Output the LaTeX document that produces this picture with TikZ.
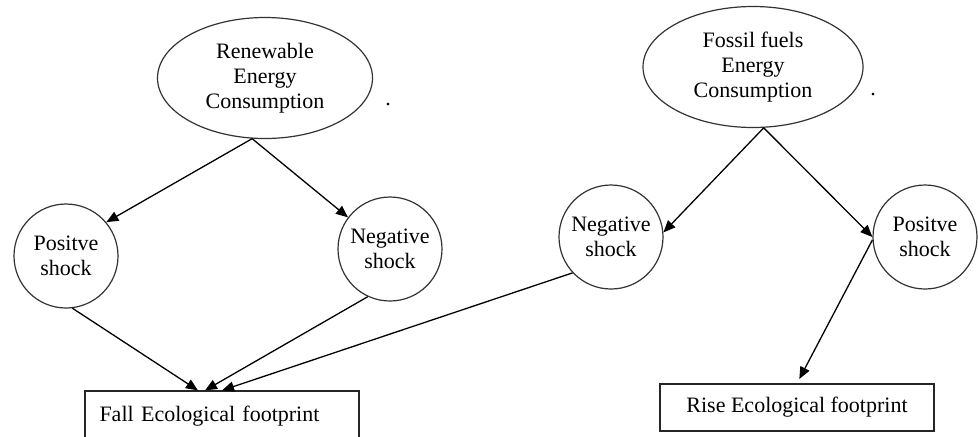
\documentclass[tikz,border=0pt]{standalone}
\usepackage{fontspec}
\setmainfont{Liberation Serif}
\usepackage{tikz}
\usetikzlibrary{shapes.geometric,arrows.meta}

\begin{document}
\begin{tikzpicture}[x=0.5pt,y=-0.5pt,
  font=\fontsize{11}{12.5}\selectfont,
  energy/.style={draw=black!80,line width=0.6pt,ellipse,align=center,inner sep=0pt,minimum height=60.5pt},
  shockc/.style={draw=black!80,line width=0.6pt,circle,align=center,inner sep=0pt,minimum size=52pt},
  footprint/.style={draw=black!85,line width=0.6pt,rectangle,minimum width=137pt},
  link/.style={-{Triangle[length=6pt,width=5pt]},line width=0.65pt}]
\useasboundingbox (0,0) rectangle (978,436);

\node[energy,minimum width=107.5pt] (ren) at (265,78) {Renewable\\Energy\\Consumption};
\node[energy,minimum width=110pt] (fos) at (753,67) {Fossil fuels\\Energy\\Consumption};
\node (dotA) at (388,105) {.};
\node (dotB) at (873,95) {.};

\node[shockc] (posA) at (66,256) {Positve\\shock};
\node[shockc] (negA) at (390,249) {Negative\\shock};
\node[shockc] (negB) at (611,237) {Negative\\shock};
\node[shockc] (posB) at (925,237) {Positve\\shock};

\node[footprint,minimum height=25pt,align=left,text width=122.5pt,inner xsep=7pt] (fall) at (222,416) {Fall Ecological footprint};
\node[footprint,minimum height=23.5pt] (rise) at (797,407.5) {Rise Ecological footprint};

\draw[link] (ren.258) -- (posA.40);
\draw[link] (ren.258) -- (negA.143);
\draw[link] (fos.280) -- (negB.5);
\draw[link] (fos.280) -- (posB.180);

\draw[link] (posA.277) -- ([xshift=-12pt]fall.north);
\draw[link] (negA.245) -- ([xshift=-8.5pt]fall.north);
\draw[link] (negB.223) -- (fall.north);
\draw[link,shorten >=2.5pt] (posB.183) -- (rise.north);
\end{tikzpicture}
\end{document}
